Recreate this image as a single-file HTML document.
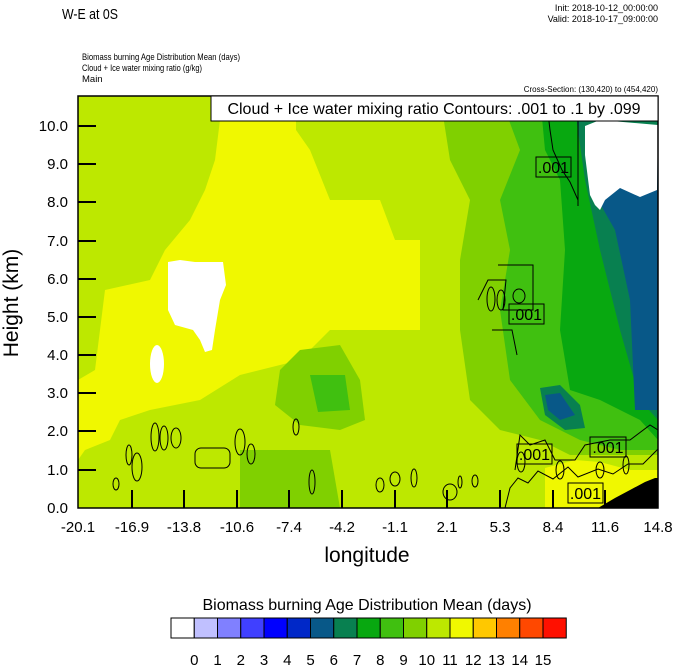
<!DOCTYPE html>
<html><head><style>body{margin:0;background:#fff}svg{display:block}text{font-family:"Liberation Sans",sans-serif}</style></head><body>
<svg width="674" height="667" viewBox="0 0 674 667" xmlns="http://www.w3.org/2000/svg">
<text x="62" y="19" font-size="15" textLength="56" lengthAdjust="spacingAndGlyphs">W-E at 0S</text>
<text x="658" y="11" font-size="9" text-anchor="end">Init: 2018-10-12_00:00:00</text>
<text x="658" y="22" font-size="9" text-anchor="end">Valid: 2018-10-17_09:00:00</text>
<text x="82" y="60" font-size="9.5" textLength="158" lengthAdjust="spacingAndGlyphs">Biomass burning Age Distribution Mean    (days)</text>
<text x="82" y="71" font-size="9.5" textLength="120" lengthAdjust="spacingAndGlyphs">Cloud + Ice water mixing ratio    (g/kg)</text>
<text x="82" y="82" font-size="9.5">Main</text>
<text x="658" y="92" font-size="8" text-anchor="end">Cross-Section: (130,420) to (454,420)</text>
<defs><clipPath id="c"><rect x="78" y="96" width="580" height="412"/></clipPath></defs>
<g clip-path="url(#c)">
<rect x="78" y="96" width="580" height="412" fill="#bde800"/>
<polygon fill="#f0f800" points="223,96 296,96 296,130 310,150 330,200 380,200 395,240 420,240 420,330 330,330 300,360 240,375 200,400 150,410 120,420 110,440 85,450 78,460 78,380 95,370 105,290 150,280 165,250 190,220 205,190 215,160"/>
<polygon fill="#80d000" points="280,370 300,350 340,345 360,380 365,420 340,430 300,425 275,405"/>
<polygon fill="#80d000" points="240,450 330,450 340,508 240,508"/>
<polygon fill="#40c010" points="310,375 345,375 350,410 318,412"/>
<polygon fill="#80d000" points="440,96 658,96 658,470 600,470 540,440 500,430 470,400 460,330 460,260 470,200 450,160"/>
<polygon fill="#40c010" points="500,96 658,96 658,450 620,450 580,440 540,420 510,380 500,310 510,250 500,200 520,150"/>
<polygon fill="#08a810" points="540,96 658,96 658,440 640,420 600,400 570,390 560,330 565,250 560,180 545,150"/>
<polygon fill="#088050" points="575,110 658,96 658,420 640,400 620,330 600,250 585,180"/>
<polygon fill="#088050" points="540,388 560,385 580,405 585,428 565,430 545,415"/>
<polygon fill="#085888" points="590,160 658,150 658,410 635,410 630,300 615,230 598,200"/>
<polygon fill="#085888" points="545,395 560,393 575,415 560,420 548,410"/>
<polygon fill="#ffffff" points="585,126 600,120 658,125 657,190 640,197 620,188 605,200 600,210 595,205 590,195 585,155"/>
<polygon fill="#ffffff" points="168,262 180,260 195,262 223,262 226,285 220,300 215,330 212,350 205,352 200,340 193,330 175,325 168,310"/>
<ellipse cx="157" cy="364" rx="7" ry="19" fill="#fff"/>
<polygon fill="#bde800" points="540,455 658,455 658,470 620,470 600,465"/>
<polygon fill="#f0f800" points="545,468 575,460 600,462 630,470 658,470 658,508 545,508"/>
<polygon fill="#000" points="598,508 615,498 630,490 645,482 655,478 658,478 658,508"/>
<g fill="none" stroke="#000" stroke-width="1">
<polyline points="546,96 550,130 553,150 562,170 570,182 578,200 578,206"/>
<line x1="578" y1="96" x2="578" y2="206"/>
<path d="M478,300 l10,-20 l18,0 l-3,30 l30,0 l0,-45 l-35,0 M492,330 l20,0 l5,25"/>
<ellipse cx="491" cy="299" rx="4" ry="12"/><ellipse cx="501" cy="300" rx="4" ry="10"/><ellipse cx="519" cy="296" rx="6" ry="7"/>
<ellipse cx="155" cy="437" rx="4" ry="14"/><ellipse cx="164" cy="438" rx="4" ry="12"/><ellipse cx="176" cy="438" rx="5" ry="10"/>
<rect x="195" y="448" width="35" height="20" rx="6"/><ellipse cx="240" cy="442" rx="5" ry="13"/><ellipse cx="251" cy="454" rx="4" ry="10"/>
<ellipse cx="129" cy="455" rx="3" ry="10"/><ellipse cx="137" cy="467" rx="5" ry="14"/><ellipse cx="116" cy="484" rx="3" ry="6"/>
<ellipse cx="296" cy="427" rx="3" ry="8"/><ellipse cx="312" cy="482" rx="3" ry="12"/><ellipse cx="380" cy="485" rx="4" ry="7"/><ellipse cx="395" cy="479" rx="5" ry="7"/><ellipse cx="414" cy="478" rx="3" ry="9"/>
<ellipse cx="450" cy="492" rx="7" ry="8"/><ellipse cx="475" cy="481" rx="3" ry="6"/><ellipse cx="460" cy="482" rx="2" ry="6"/>
<path d="M505,508 l5,-20 l8,-10 l10,5 l10,-12 l15,8 l15,-12 l10,10 l20,-8 l15,5 l15,-10 l15,0 l15,-15"/>
<path d="M515,470 l5,-35 l10,10 l15,-5 l10,20 l20,0 l10,-15 l25,-5 l20,0 l20,-15 l8,5"/>
<ellipse cx="521" cy="462" rx="4" ry="10"/><ellipse cx="560" cy="470" rx="4" ry="9"/><ellipse cx="600" cy="470" rx="4" ry="8"/><ellipse cx="626" cy="465" rx="3" ry="9"/>
</g>
</g>
<g font-size="16" text-anchor="middle">
<rect x="536" y="157" width="35" height="20" fill="none" stroke="#000"/><text x="553.5" y="173">.001</text>
<rect x="509" y="304" width="35" height="20" fill="none" stroke="#000"/><text x="526.5" y="320">.001</text>
<rect x="517" y="444" width="35" height="20" fill="none" stroke="#000"/><text x="534.5" y="460">.001</text>
<rect x="590" y="437" width="36" height="20" fill="none" stroke="#000"/><text x="608" y="453">.001</text>
<rect x="568" y="483" width="35" height="20" fill="none" stroke="#000"/><text x="585.5" y="499">.001</text>
</g>
<rect x="78" y="96" width="580" height="412" fill="none" stroke="#000" stroke-width="1.5"/>
<rect x="211" y="96" width="447" height="25" fill="#fff" stroke="#000" stroke-width="1"/>
<text x="434" y="114" font-size="16" text-anchor="middle">Cloud + Ice water mixing ratio Contours: .001 to .1 by .099</text>
<g stroke="#000" stroke-width="2">
<line x1="78" y1="126" x2="96" y2="126"/><line x1="78" y1="164" x2="96" y2="164"/><line x1="78" y1="202" x2="96" y2="202"/><line x1="78" y1="241" x2="96" y2="241"/><line x1="78" y1="279" x2="96" y2="279"/><line x1="78" y1="317" x2="96" y2="317"/><line x1="78" y1="355" x2="96" y2="355"/><line x1="78" y1="393" x2="96" y2="393"/><line x1="78" y1="431" x2="96" y2="431"/><line x1="78" y1="470" x2="96" y2="470"/>
<line x1="132" y1="490" x2="132" y2="508"/><line x1="184" y1="490" x2="184" y2="508"/><line x1="237" y1="490" x2="237" y2="508"/><line x1="289" y1="490" x2="289" y2="508"/><line x1="342" y1="490" x2="342" y2="508"/><line x1="395" y1="490" x2="395" y2="508"/><line x1="447" y1="490" x2="447" y2="508"/><line x1="500" y1="490" x2="500" y2="508"/><line x1="553" y1="490" x2="553" y2="508"/><line x1="605" y1="490" x2="605" y2="508"/>
</g>
<g font-size="15" text-anchor="end">
<text x="68" y="131">10.0</text><text x="68" y="169">9.0</text><text x="68" y="207">8.0</text><text x="68" y="246">7.0</text><text x="68" y="284">6.0</text><text x="68" y="322">5.0</text><text x="68" y="360">4.0</text><text x="68" y="398">3.0</text><text x="68" y="436">2.0</text><text x="68" y="475">1.0</text><text x="68" y="513">0.0</text>
</g>
<g font-size="15" text-anchor="middle">
<text x="78" y="532">-20.1</text><text x="132" y="532">-16.9</text><text x="184" y="532">-13.8</text><text x="237" y="532">-10.6</text><text x="289" y="532">-7.4</text><text x="342" y="532">-4.2</text><text x="395" y="532">-1.1</text><text x="447" y="532">2.1</text><text x="500" y="532">5.3</text><text x="553" y="532">8.4</text><text x="605" y="532">11.6</text><text x="658" y="532">14.8</text>
</g>
<text x="367" y="562" font-size="21" text-anchor="middle">longitude</text>
<text transform="translate(18,303) rotate(-90)" font-size="21" text-anchor="middle">Height (km)</text>
<text x="367" y="610" font-size="16" text-anchor="middle">Biomass burning Age Distribution Mean  (days)</text>
<g stroke="#000" stroke-width="1">
<rect x="171" y="618" width="23.25" height="20" fill="#fff"/>
<rect x="194.25" y="618" width="23.25" height="20" fill="#c0c0ff"/>
<rect x="217.5" y="618" width="23.25" height="20" fill="#8080ff"/>
<rect x="240.75" y="618" width="23.25" height="20" fill="#4040ff"/>
<rect x="264" y="618" width="23.25" height="20" fill="#0000ff"/>
<rect x="287.25" y="618" width="23.25" height="20" fill="#0028c8"/>
<rect x="310.5" y="618" width="23.25" height="20" fill="#085888"/>
<rect x="333.75" y="618" width="23.25" height="20" fill="#088050"/>
<rect x="357" y="618" width="23.25" height="20" fill="#08a810"/>
<rect x="380.25" y="618" width="23.25" height="20" fill="#40c010"/>
<rect x="403.5" y="618" width="23.25" height="20" fill="#80d000"/>
<rect x="426.75" y="618" width="23.25" height="20" fill="#bde800"/>
<rect x="450" y="618" width="23.25" height="20" fill="#f0f800"/>
<rect x="473.25" y="618" width="23.25" height="20" fill="#ffc800"/>
<rect x="496.5" y="618" width="23.25" height="20" fill="#ff8000"/>
<rect x="519.75" y="618" width="23.25" height="20" fill="#ff4800"/>
<rect x="543" y="618" width="23.25" height="20" fill="#ff1000"/>
</g>
<g font-size="15" text-anchor="middle">
<text x="194.25" y="665">0</text><text x="217.5" y="665">1</text><text x="240.75" y="665">2</text><text x="264" y="665">3</text><text x="287.25" y="665">4</text><text x="310.5" y="665">5</text><text x="333.75" y="665">6</text><text x="357" y="665">7</text><text x="380.25" y="665">8</text><text x="403.5" y="665">9</text><text x="426.75" y="665">10</text><text x="450" y="665">11</text><text x="473.25" y="665">12</text><text x="496.5" y="665">13</text><text x="519.75" y="665">14</text><text x="543" y="665">15</text>
</g>
</svg>
</body></html>
